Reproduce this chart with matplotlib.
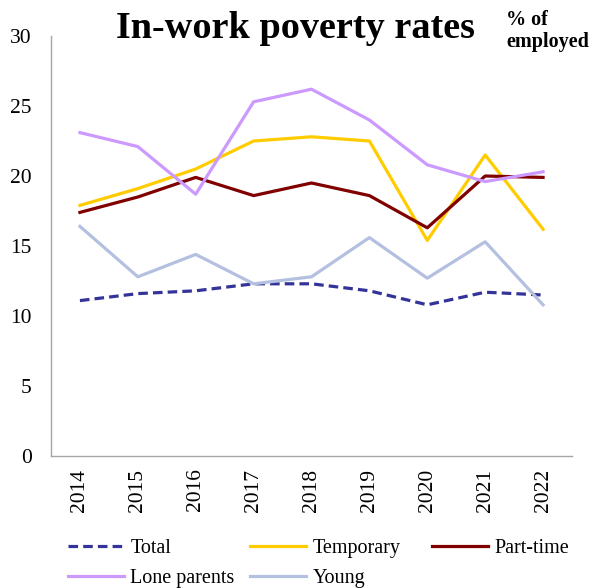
import matplotlib
matplotlib.use("Agg")
import matplotlib.pyplot as plt

years = ["2014", "2015", "2016", "2017", "2018", "2019", "2020", "2021", "2022"]
total = [11.1, 11.6, 11.8, 12.3, 12.3, 11.8, 10.8, 11.7, 11.5]
temporary = [17.9, 19.1, 20.5, 22.5, 22.8, 22.5, 15.4, 21.5, 16.2]
part_time = [17.4, 18.5, 19.9, 18.6, 19.5, 18.6, 16.3, 20.0, 19.9]
lone_parents = [23.1, 22.1, 18.7, 25.3, 26.2, 24.0, 20.8, 19.6, 20.3]
young = [16.4, 12.8, 14.4, 12.3, 12.8, 15.6, 12.7, 15.3, 10.8]

plt.rcParams['font.family'] = ['Liberation Serif', 'DejaVu Serif']

W, H = 592, 588
fig = plt.figure(figsize=(W / 100, H / 100), dpi=100)
ax = fig.add_axes([51 / W, 1 - 456 / H, (572 - 51) / W, (456 - 36) / H])

x = list(range(len(years)))
lw = 2.3
l_total, = ax.plot(x, total, color="#333399", lw=lw, linestyle=(0, (3, 1.6)), label="Total")
l_temp, = ax.plot(x, temporary, color="#FFCC00", lw=lw, label="Temporary")
l_pt, = ax.plot(x, part_time, color="#800000", lw=lw, label="Part-time")
l_lone, = ax.plot(x, lone_parents, color="#CC99FF", lw=lw, label="Lone parents")
l_young, = ax.plot(x, young, color="#B4C0E0", lw=lw, label="Young")

ax.set_xlim(-0.5, len(years) - 0.5)
ax.set_ylim(0, 30)
ax.set_yticks([0, 5, 10, 15, 20, 25, 30])
ax.set_xticks(x)
ax.set_xticklabels(years, rotation=90)
ax.tick_params(axis="both", length=0, labelsize=15.5, colors="black")
ax.tick_params(axis="y", pad=14)
ax.tick_params(axis="x", pad=9)
for s in ["top", "right"]:
    ax.spines[s].set_visible(False)
for s in ["left", "bottom"]:
    ax.spines[s].set_color("#A6A6A6")
    ax.spines[s].set_linewidth(1.0)

fig.text(295 / W, 1 - 28 / H, "In-work poverty rates", ha="center", va="center",
         fontsize=27.5, fontweight="bold")
fig.text(506 / W, 1 - 20 / H, "% of", ha="left", va="center", fontsize=14.5, fontweight="bold")
fig.text(506 / W, 1 - 42 / H, "employed", ha="left", va="center", fontsize=14.5, fontweight="bold")

common = dict(frameon=False, fontsize=14.5, handlelength=2.8, handletextpad=0.3,
              labelspacing=0.52, borderpad=0, borderaxespad=0, loc="upper left")
leg1 = fig.legend([l_total, l_lone], ["Total", "Lone parents"],
                  bbox_to_anchor=(68 / W, 1 - 539 / H), **common)
leg2 = fig.legend([l_temp, l_young], ["Temporary", "Young"],
                  bbox_to_anchor=(250 / W, 1 - 539 / H), **common)
leg3 = fig.legend([l_pt], ["Part-time"],
                  bbox_to_anchor=(432 / W, 1 - 539 / H), **common)

fig.savefig("out.png", dpi=100)
